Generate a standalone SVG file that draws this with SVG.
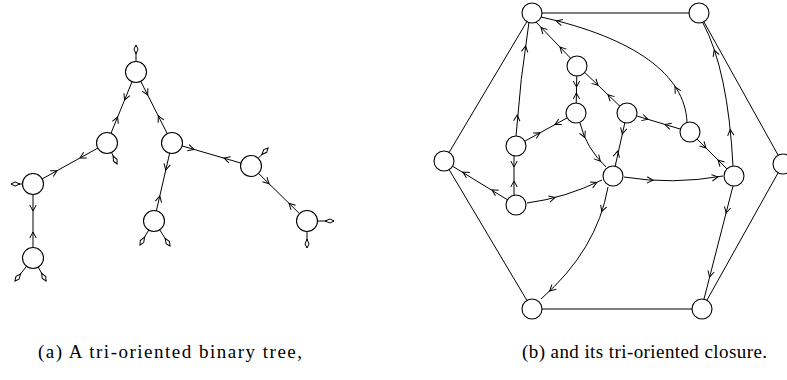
<svg xmlns="http://www.w3.org/2000/svg" width="787" height="380" viewBox="0 0 787 380">
<style>
.e{fill:none;stroke:#000;stroke-width:1}
.n{fill:#fff;stroke:#000;stroke-width:1.1}
.cap{font-family:"Liberation Serif","DejaVu Serif",serif;font-size:19px;fill:#000}
</style>
<defs>
<path id="ah" d="M-6,-3.2 L0,0 L-6,3.2" fill="none" stroke="#000" stroke-width="1"/>
<marker id="lf" markerUnits="userSpaceOnUse" markerWidth="12" markerHeight="8" viewBox="-10 -4 11 8" refX="0" refY="0" orient="auto"><path d="M0,0 L-4,-2 L-9,0 L-4,2 Z" fill="#fff" stroke="#000" stroke-width="1"/></marker>
</defs>
<rect width="787" height="380" fill="#fff"/>
<g id="connectors">
<!-- left tree edges -->
<line class="e" x1="136" y1="72" x2="107" y2="143"/>
<line class="e" x1="136" y1="72" x2="172" y2="143"/>
<line class="e" x1="107" y1="143" x2="33" y2="184"/>
<line class="e" x1="33" y1="184" x2="33" y2="258"/>
<line class="e" x1="172" y1="143" x2="154" y2="221"/>
<line class="e" x1="172" y1="143" x2="251" y2="166"/>
<line class="e" x1="251" y1="166" x2="307" y2="221"/>
<use href="#ah" transform="translate(124.6,100) rotate(112.2)"/>
<use href="#ah" transform="translate(117.6,117) rotate(-67.8)"/>
<use href="#ah" transform="translate(147.7,95) rotate(63.1)"/>
<use href="#ah" transform="translate(158.3,116) rotate(-116.9)"/>
<use href="#ah" transform="translate(80,158) rotate(151)"/>
<use href="#ah" transform="translate(57,170.7) rotate(-29)"/>
<use href="#ah" transform="translate(33,211) rotate(90)"/>
<use href="#ah" transform="translate(33,232) rotate(-90)"/>
<use href="#ah" transform="translate(165.8,170) rotate(103)"/>
<use href="#ah" transform="translate(159.8,196) rotate(-77)"/>
<use href="#ah" transform="translate(194,149.4) rotate(16.2)"/>
<use href="#ah" transform="translate(224,158.1) rotate(196.2)"/>
<use href="#ah" transform="translate(269,183.7) rotate(44.5)"/>
<use href="#ah" transform="translate(289,203.3) rotate(224.5)"/>
<!-- left tree leaves -->
<line class="e" x1="136" y1="72" x2="136" y2="45" marker-end="url(#lf)"/>
<line class="e" x1="107" y1="143" x2="117" y2="164" marker-end="url(#lf)"/>
<line class="e" x1="33" y1="184" x2="11" y2="184" marker-end="url(#lf)"/>
<line class="e" x1="33" y1="258" x2="15" y2="281" marker-end="url(#lf)"/>
<line class="e" x1="33" y1="258" x2="46" y2="281" marker-end="url(#lf)"/>
<line class="e" x1="154" y1="221" x2="140" y2="245" marker-end="url(#lf)"/>
<line class="e" x1="154" y1="221" x2="170" y2="246" marker-end="url(#lf)"/>
<line class="e" x1="251" y1="166" x2="268" y2="148" marker-end="url(#lf)"/>
<line class="e" x1="307" y1="221" x2="334" y2="221" marker-end="url(#lf)"/>
<line class="e" x1="307" y1="221" x2="307" y2="248" marker-end="url(#lf)"/>
<!-- right: outer hexagon -->
<line class="e" x1="532" y1="13" x2="699" y2="13"/>
<line class="e" x1="699" y1="13" x2="783" y2="164"/>
<line class="e" x1="783" y1="164" x2="702" y2="309"/>
<line class="e" x1="702" y1="309" x2="532" y2="309"/>
<line class="e" x1="532" y1="309" x2="444" y2="161"/>
<line class="e" x1="444" y1="161" x2="532" y2="13"/>
<!-- right: inner edges -->
<path class="e" d="M516,136 Q520,80 529,22"/>
<use href="#ah" transform="translate(525.6,46) rotate(-81)"/>
<use href="#ah" transform="translate(517.2,115) rotate(-86)"/>
<line class="e" x1="578" y1="66" x2="535" y2="21"/>
<use href="#ah" transform="translate(541,27.5) rotate(-133.7)"/>
<use href="#ah" transform="translate(560,47) rotate(-133.7)"/>
<path class="e" d="M541,17 C635,38 685,75 687,122"/>
<use href="#ah" transform="translate(556.3,21.1) rotate(-166)"/>
<use href="#ah" transform="translate(675,87) rotate(-120)"/>
<line class="e" x1="577" y1="66" x2="576" y2="113"/>
<use href="#ah" transform="translate(576.5,87) rotate(90)"/>
<use href="#ah" transform="translate(576.4,93) rotate(-90)"/>
<line class="e" x1="578" y1="66" x2="627" y2="113"/>
<use href="#ah" transform="translate(598,85.2) rotate(43.8)"/>
<use href="#ah" transform="translate(608,94.8) rotate(-136.2)"/>
<line class="e" x1="516" y1="146" x2="576" y2="113"/>
<use href="#ah" transform="translate(540,132.8) rotate(-28.8)"/>
<use href="#ah" transform="translate(555,124.6) rotate(151.2)"/>
<path class="e" d="M580,123 Q586,148 606,167"/>
<use href="#ah" transform="translate(584.8,137.5) rotate(66)"/>
<use href="#ah" transform="translate(600.3,161.2) rotate(48)"/>
<line class="e" x1="627" y1="113" x2="613" y2="176"/>
<use href="#ah" transform="translate(622.3,134) rotate(103)"/>
<use href="#ah" transform="translate(617.7,151) rotate(-77)"/>
<line class="e" x1="627" y1="113" x2="690" y2="132"/>
<use href="#ah" transform="translate(648,119.3) rotate(16.8)"/>
<use href="#ah" transform="translate(665,124.5) rotate(196.8)"/>
<line class="e" x1="690" y1="132" x2="734" y2="176"/>
<use href="#ah" transform="translate(706,148) rotate(45)"/>
<use href="#ah" transform="translate(718,160) rotate(-135)"/>
<path class="e" d="M733,166 Q728,70 703,23"/>
<use href="#ah" transform="translate(730.2,129.6) rotate(-96)"/>
<use href="#ah" transform="translate(714.2,50.1) rotate(-109)"/>
<line class="e" x1="733" y1="186" x2="704" y2="299"/>
<use href="#ah" transform="translate(726.1,213) rotate(104.4)"/>
<use href="#ah" transform="translate(709.6,277) rotate(104.4)"/>
<path class="e" d="M624,177 Q672,185 723,176"/>
<use href="#ah" transform="translate(653,180.3) rotate(3.4)"/>
<use href="#ah" transform="translate(717.9,176.9) rotate(-9)"/>
<path class="e" d="M527,203 Q565,198 602,180"/>
<use href="#ah" transform="translate(555,197.5) rotate(-14.6)"/>
<use href="#ah" transform="translate(596.8,182.5) rotate(-24.7)"/>
<line class="e" x1="516" y1="205" x2="444" y2="161"/>
<use href="#ah" transform="translate(463,172.1) rotate(-148.6)"/>
<use href="#ah" transform="translate(492,189.8) rotate(-148.6)"/>
<line class="e" x1="514" y1="146" x2="514" y2="205"/>
<use href="#ah" transform="translate(514,167) rotate(90)"/>
<use href="#ah" transform="translate(514,181) rotate(-90)"/>
<path class="e" d="M608,187 Q597,250 541,299"/>
<use href="#ah" transform="translate(601.8,211.6) rotate(108.4)"/>
<use href="#ah" transform="translate(549.7,291.1) rotate(136)"/>
</g>
<!-- left tree nodes -->
<g id="t-root"><circle class="n" cx="136" cy="72" r="10.5"/></g>
<g id="t-a"><circle class="n" cx="107" cy="143" r="10.5"/></g>
<g id="t-b"><circle class="n" cx="33" cy="184" r="10.5"/></g>
<g id="t-c"><circle class="n" cx="33" cy="258" r="10.5"/></g>
<g id="t-d"><circle class="n" cx="172" cy="143" r="10.5"/></g>
<g id="t-e"><circle class="n" cx="154" cy="221" r="10.5"/></g>
<g id="t-f"><circle class="n" cx="251" cy="166" r="10.5"/></g>
<g id="t-g"><circle class="n" cx="307" cy="221" r="10.5"/></g>
<!-- right graph nodes -->
<g id="c-tl"><circle class="n" cx="532" cy="13" r="10"/></g>
<g id="c-tr"><circle class="n" cx="699" cy="13" r="10"/></g>
<g id="c-l"><circle class="n" cx="444" cy="161" r="10"/></g>
<g id="c-r"><circle class="n" cx="783" cy="164" r="10"/></g>
<g id="c-bl"><circle class="n" cx="532" cy="309" r="10"/></g>
<g id="c-br"><circle class="n" cx="702" cy="309" r="10"/></g>
<g id="c-n1"><circle class="n" cx="577" cy="66" r="10"/></g>
<g id="c-n2"><circle class="n" cx="576" cy="113" r="10"/></g>
<g id="c-n3"><circle class="n" cx="516" cy="146" r="10"/></g>
<g id="c-n4"><circle class="n" cx="627" cy="113" r="10"/></g>
<g id="c-n5"><circle class="n" cx="690" cy="132" r="10"/></g>
<g id="c-n6"><circle class="n" cx="613" cy="176" r="10"/></g>
<g id="c-n7"><circle class="n" cx="734" cy="176" r="10"/></g>
<g id="c-n8"><circle class="n" cx="516" cy="205" r="10"/></g>
<g id="captions">
<text class="cap" x="38" y="358" textLength="264" lengthAdjust="spacing">(a) A tri-oriented binary tree,</text>
<text class="cap" x="522" y="358" textLength="245" lengthAdjust="spacing">(b) and its tri-oriented closure.</text>
</g>
</svg>
